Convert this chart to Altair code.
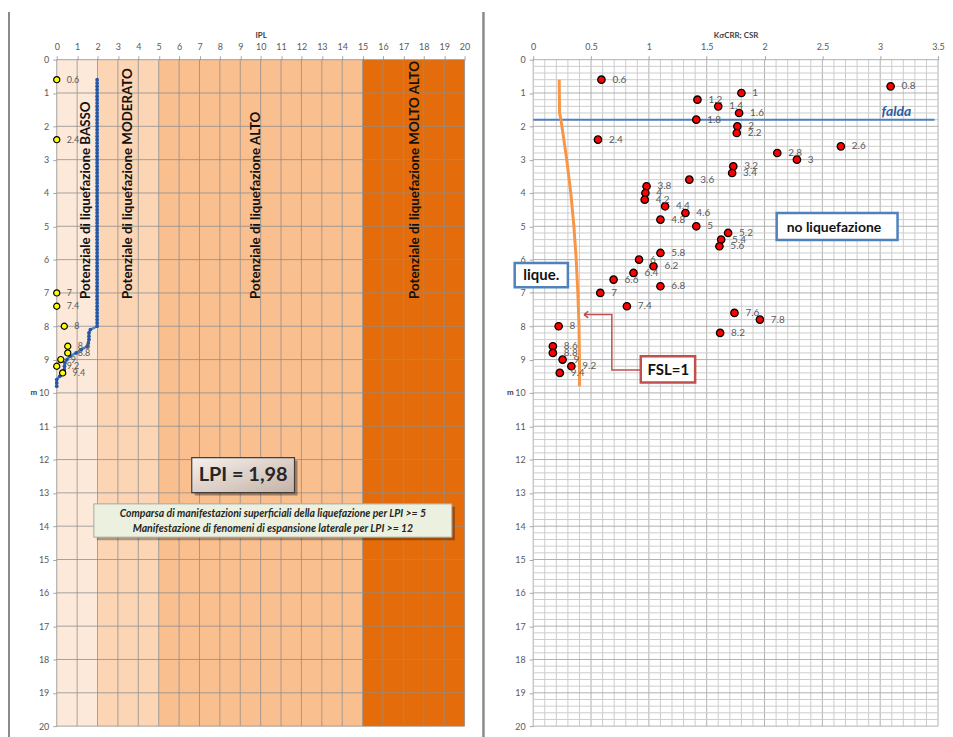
import altair as alt
import pandas as pd

FONT = "Lato"

# ---------------- left panel data ----------------
band_lo = [0, 2, 5, 15]
band_hi = [2, 5, 15, 20]
band_col = ["#fde9d9", "#fcd5b5", "#f9bf8f", "#e46c0a"]

zone_ipl = [1.46, 3.48, 9.79, 17.55]
zone_depth = [7.18, 7.18, 7.18, 7.18]
zone_txt = ["Potenziale di liquefazione BASSO",
            "Potenziale di liquefazione MODERATO",
            "Potenziale di liquefazione ALTO",
            "Potenziale di liquefazione MOLTO ALTO"]

fs_depth = [0.6, 2.4, 7.0, 7.4, 8.0, 8.6, 8.8, 9.0, 9.2, 9.4]
fs_ipl = [0.0, 0.0, 0.0, 0.0, 0.37, 0.54, 0.54, 0.2, 0.0, 0.29]
fs_lab = ["0.6", "2.4", "7", "7.4", "8", "8.6", "8.8", "9", "9.2", "9.4"]

lpi_depth = [0.6, 0.7, 0.8, 0.9, 1.0, 1.1, 1.2, 1.3, 1.4, 1.5, 1.6, 1.7, 1.8, 1.9, 2.0,
             2.1, 2.2, 2.3, 2.4, 2.5, 2.6, 2.7, 2.8, 2.9, 3.0, 3.1, 3.2, 3.3, 3.4, 3.5,
             3.6, 3.7, 3.8, 3.9, 4.0, 4.1, 4.2, 4.3, 4.4, 4.5, 4.6, 4.7, 4.8, 4.9, 5.0,
             5.1, 5.2, 5.3, 5.4, 5.5, 5.6, 5.7, 5.8, 5.9, 6.0, 6.1, 6.2, 6.3, 6.4, 6.5,
             6.6, 6.7, 6.8, 6.9, 7.0, 7.1, 7.2, 7.3, 7.4, 7.5, 7.6, 7.7, 7.8, 7.9, 8.0,
             8.1, 8.2, 8.3, 8.4, 8.5, 8.6, 8.7, 8.8, 8.9, 9.0, 9.1, 9.2, 9.3, 9.4, 9.5,
             9.6, 9.7, 9.8]
lpi_val = [1.98, 1.98, 1.98, 1.98, 1.98, 1.98, 1.98, 1.98, 1.98, 1.98, 1.98, 1.98, 1.98, 1.98, 1.98,
           1.98, 1.98, 1.98, 1.98, 1.98, 1.98, 1.98, 1.98, 1.98, 1.98, 1.98, 1.98, 1.98, 1.98, 1.98,
           1.98, 1.98, 1.98, 1.98, 1.98, 1.98, 1.98, 1.98, 1.98, 1.98, 1.98, 1.98, 1.98, 1.98, 1.98,
           1.98, 1.98, 1.98, 1.98, 1.98, 1.98, 1.98, 1.98, 1.98, 1.98, 1.98, 1.98, 1.98, 1.98, 1.98,
           1.98, 1.98, 1.98, 1.98, 1.98, 1.98, 1.98, 1.98, 1.98, 1.98, 1.98, 1.98, 1.98, 1.98, 1.98,
           1.65, 1.58, 1.58, 1.58, 1.55, 1.50, 1.20, 0.95, 0.65, 0.50, 0.40, 0.38, 0.37, 0.36, 0.15,
           0.0, 0.0, 0.0]

lpi_box = {"x": [6.62], "x2": [11.66], "y": [11.94], "y2": [12.99]}
lpi_text = ["LPI = 1,98"]
note_box = {"x": [1.82], "x2": [19.38], "y": [13.33], "y2": [14.33]}
note_lines = ["Comparsa di manifestazioni superficiali della liquefazione per LPI >= 5",
              "Manifestazione di fenomeni di espansione laterale per LPI >= 12"]
note_depth = [13.63, 14.08]

# ---------------- right panel data ----------------
pt_depth = [0.6, 0.8, 1.0, 1.2, 1.4, 1.6, 1.8, 2.0, 2.2, 2.4, 2.6, 2.8, 3.0, 3.2, 3.4,
            3.6, 3.8, 4.0, 4.2, 4.4, 4.6, 4.8, 5.0, 5.2, 5.4, 5.6, 5.8, 6.0, 6.2, 6.4,
            6.6, 6.8, 7.0, 7.4, 7.6, 7.8, 8.0, 8.2, 8.6, 8.8, 9.0, 9.2, 9.4]
pt_kcrr = [0.59, 3.09, 1.80, 1.42, 1.60, 1.78, 1.41, 1.765, 1.76, 0.56, 2.66, 2.11, 2.28, 1.73, 1.72,
           1.35, 0.98, 0.97, 0.964, 1.14, 1.316, 1.10, 1.41, 1.685, 1.625, 1.61, 1.10, 0.915, 1.04, 0.867,
           0.695, 1.10, 0.58, 0.81, 1.74, 1.96, 0.22, 1.616, 0.17, 0.17, 0.254, 0.33, 0.23]
pt_lab = ["0.6", "0.8", "1", "1.2", "1.4", "1.6", "1.8", "2", "2.2", "2.4", "2.6", "2.8", "3", "3.2", "3.4",
          "3.6", "3.8", "4", "4.2", "4.4", "4.6", "4.8", "5", "5.2", "5.4", "5.6", "5.8", "6", "6.2", "6.4",
          "6.6", "6.8", "7", "7.4", "7.6", "7.8", "8", "8.2", "8.6", "8.8", "9", "9.2", "9.4"]

csr_depth = [0.6, 1.6, 1.8, 2.4, 3.0, 4.0, 5.0, 6.0, 7.0, 8.0, 9.0, 9.8]
csr_val = [0.225, 0.228, 0.24, 0.265, 0.29, 0.325, 0.352, 0.372, 0.386, 0.396, 0.40, 0.40]

falda_depth = 1.8
falda_x = [0.0, 3.47]

boxes = {"x": [2.105, -0.16, 0.93], "x2": [3.15, 0.30, 1.40],
         "y": [4.60, 6.10, 8.90], "y2": [5.41, 6.83, 9.69],
         "stroke": ["#4f81bd", "#4f81bd", "#c0504d"]}
box_text = ["no liquefazione", "lique.", "FSL=1"]
box_tx = [2.60, 0.07, 1.168]
box_ty = [5.06, 6.47, 9.30]
box_fs = [14, 15, 15]

arrow_x = [0.93, 0.68, 0.68, 0.44]
arrow_y = [9.31, 9.31, 7.65, 7.65]

# ---------------- scales & axes ----------------
W1, W2, H = 410, 407, 670
xl = alt.Scale(domain=[0, 20], nice=False, zero=False)
xr = alt.Scale(domain=[0, 3.5], nice=False, zero=False)
yd = alt.Scale(domain=[0, 20], reverse=True, nice=False, zero=False)

axis_common = dict(grid=False, domain=False, tickSize=4, tickColor="#a6a6a6",
                   labelFontSize=9, labelColor="#595959", labelFont=FONT,
                   titleFont=FONT, titleFontSize=8, titleFontWeight="bold",
                   titleColor="#404040", labelFlush=False, labelOverlap=False)

AX_L = alt.Axis(orient="top", values=list(range(21)), title="IPL",
                labelPadding=4, titlePadding=3, **axis_common)
AX_R = alt.Axis(orient="top", values=[0, 0.5, 1, 1.5, 2, 2.5, 3, 3.5], format="~g",
                title="KσCRR;  CSR", labelPadding=4, titlePadding=3, **axis_common)
AX_Y = alt.Axis(orient="left", values=list(range(21)), title="m", titleAngle=0,
                titleBaseline="middle", titlePadding=5, labelPadding=4, **axis_common)


def XL(f):
    return alt.X(f, scale=xl, axis=AX_L)


def XR(f):
    return alt.X(f, scale=xr, axis=AX_R)


def YD(f):
    return alt.Y(f, scale=yd, axis=AX_Y)


# ---------------- left panel ----------------
bands = alt.Chart(pd.DataFrame({"lo": band_lo, "hi": band_hi, "c": band_col,
                                "d0": [0] * 4, "d1": [20] * 4})).mark_rect().encode(
    x=XL("lo:Q"), x2="hi:Q", y=YD("d0:Q"), y2="d1:Q",
    color=alt.Color("c:N", scale=None),
)

grid_vals = list(range(21))
gl_v = alt.Chart(pd.DataFrame({"g": grid_vals})).mark_rule(color="#8f8f8f", strokeWidth=1, opacity=0.8).encode(
    x=XL("g:Q"), y=alt.value(0), y2=alt.value(H))
gl_h = alt.Chart(pd.DataFrame({"g": grid_vals})).mark_rule(color="#8f8f8f", strokeWidth=1, opacity=0.8).encode(
    y=YD("g:Q"), x=alt.value(0), x2=alt.value(W1))

zones = alt.Chart(pd.DataFrame({"x": zone_ipl, "y": zone_depth, "t": zone_txt})).mark_text(
    angle=270, align="left", baseline="middle", font=FONT, fontSize=13.4, fontWeight="bold", color="#111111"
).encode(x=XL("x:Q"), y=YD("y:Q"), text="t:N")

lpi_df = pd.DataFrame({"d": lpi_depth, "v": lpi_val})
lpi_line = alt.Chart(lpi_df).mark_line(color="#4f86d0", strokeWidth=2.5).encode(
    x=XL("v:Q"), y=YD("d:Q"), order="d:Q")
lpi_pts = alt.Chart(lpi_df).mark_point(shape="circle", filled=True, color="#2157a6", size=14, opacity=1).encode(
    x=XL("v:Q"), y=YD("d:Q"))

fs_df = pd.DataFrame({"x": fs_ipl, "y": fs_depth, "t": fs_lab})
fs_pts = alt.Chart(fs_df).mark_point(shape="circle", filled=True, fill="#ffff00", stroke="#000000",
                                     strokeWidth=1.2, size=38, opacity=1).encode(
    x=XL("x:Q"), y=YD("y:Q"))
fs_txt = alt.Chart(fs_df).mark_text(align="left", baseline="middle", dx=10, font=FONT, fontSize=9,
                                    color="#595959").encode(
    x=XL("x:Q"), y=YD("y:Q"), text="t:N")

lpi_box_df = pd.DataFrame(lpi_box)
lpi_shadow = alt.Chart(lpi_box_df).mark_rect(color="#000000", opacity=0.35, xOffset=3, x2Offset=3,
                                             yOffset=3, y2Offset=3).encode(
    x=XL("x:Q"), x2="x2:Q", y=YD("y:Q"), y2="y2:Q")
lpi_rect = alt.Chart(lpi_box_df).mark_rect(
    fill=alt.Gradient(gradient="linear", x1=0, y1=0, x2=1, y2=1,
                      stops=[alt.GradientStop(color="#f6f1ed", offset=0),
                             alt.GradientStop(color="#c4b2a6", offset=1)]),
    stroke="#3f3f3f", strokeWidth=1.2).encode(
    x=XL("x:Q"), x2="x2:Q", y=YD("y:Q"), y2="y2:Q")
lpi_lbl = alt.Chart(pd.DataFrame({"x": [9.14], "y": [12.46], "t": lpi_text})).mark_text(
    font=FONT, fontSize=20, fontWeight="bold", color="#262626", baseline="middle").encode(
    x=XL("x:Q"), y=YD("y:Q"), text="t:N")

note_df = pd.DataFrame(note_box)
note_shadow = alt.Chart(note_df).mark_rect(color="#000000", opacity=0.3, xOffset=3, x2Offset=3,
                                           yOffset=3, y2Offset=3).encode(
    x=XL("x:Q"), x2="x2:Q", y=YD("y:Q"), y2="y2:Q")
note_rect = alt.Chart(note_df).mark_rect(fill="#ebf1de", stroke="#a6a6a6", strokeWidth=1).encode(
    x=XL("x:Q"), x2="x2:Q", y=YD("y:Q"), y2="y2:Q")
note_txt = alt.Chart(pd.DataFrame({"x": [10.6, 10.6], "y": note_depth, "t": note_lines})).mark_text(
    font=FONT, fontSize=10.5, fontWeight="bold", fontStyle="italic", color="#262626", baseline="middle").encode(
    x=XL("x:Q"), y=YD("y:Q"), text="t:N")

left_border = alt.Chart(pd.DataFrame({"a": [0]})).mark_rule(color="#8a8a8a", strokeWidth=2).encode(
    x=alt.value(-48), y=alt.value(-48), y2=alt.value(H + 12))

left = alt.layer(bands, gl_v, gl_h, zones, lpi_line, lpi_pts, fs_pts, fs_txt,
                 lpi_shadow, lpi_rect, lpi_lbl, note_shadow, note_rect, note_txt,
                 left_border).properties(width=W1, height=H)

# ---------------- right panel ----------------
vgrid = [i / 10 for i in range(36)]
hgrid = [i / 5 for i in range(101)]
vg_df = pd.DataFrame({"g": vgrid, "major": [i % 5 == 0 for i in range(36)]})
hg_df = pd.DataFrame({"g": hgrid, "major": [i % 5 == 0 for i in range(101)]})

rg_v = alt.Chart(vg_df).mark_rule(strokeWidth=1).encode(
    x=XR("g:Q"), y=alt.value(0), y2=alt.value(H),
    color=alt.condition("datum.major", alt.value("#b0b0b0"), alt.value("#cdcdcd")))
rg_h = alt.Chart(hg_df).mark_rule(strokeWidth=1).encode(
    y=YD("g:Q"), x=alt.value(0), x2=alt.value(W2),
    color=alt.condition("datum.major", alt.value("#b0b0b0"), alt.value("#cdcdcd")))

falda = alt.Chart(pd.DataFrame({"x": [falda_x[0]], "x2": [falda_x[1]], "y": [falda_depth]})).mark_rule(
    color="#4f81bd", strokeWidth=2).encode(
    x=XR("x:Q"), x2="x2:Q", y=YD("y:Q"))
falda_txt = alt.Chart(pd.DataFrame({"x": [3.14], "y": [1.56], "t": ["falda"]})).mark_text(
    font=FONT, fontSize=14, fontWeight="bold", fontStyle="italic", color="#2e5c9e", baseline="middle").encode(
    x=XR("x:Q"), y=YD("y:Q"), text="t:N")

csr = alt.Chart(pd.DataFrame({"d": csr_depth, "v": csr_val})).mark_line(color="#f79646", strokeWidth=3).encode(
    x=XR("v:Q"), y=YD("d:Q"), order="d:Q")

pt_df = pd.DataFrame({"x": pt_kcrr, "y": pt_depth, "t": pt_lab})
pts = alt.Chart(pt_df).mark_point(shape="circle", filled=True, fill="#ff0000", stroke="#000000",
                                  strokeWidth=1.3, size=55, opacity=1).encode(
    x=XR("x:Q"), y=YD("y:Q"))
pt_txt = alt.Chart(pt_df).mark_text(align="left", baseline="middle", dx=11, font=FONT, fontSize=10,
                                    color="#595959").encode(
    x=XR("x:Q"), y=YD("y:Q"), text="t:N")

arrow = alt.Chart(pd.DataFrame({"x": arrow_x, "y": arrow_y, "o": [0, 1, 2, 3]})).mark_line(
    color="#c0504d", strokeWidth=1.5).encode(
    x=XR("x:Q"), y=YD("y:Q"), order="o:Q")
arrow_head = alt.Chart(pd.DataFrame({"x": [arrow_x[-1]], "y": [arrow_y[-1]]})).mark_point(
    shape="M0,0L1,-0.8M0,0L1,0.8", filled=False, color="#c0504d", strokeWidth=1.5, size=70, opacity=1).encode(
    x=XR("x:Q"), y=YD("y:Q"))

box_df = pd.DataFrame(boxes)
box_rect = alt.Chart(box_df).mark_rect(fill="#ffffff", strokeWidth=2.5).encode(
    x=XR("x:Q"), x2="x2:Q", y=YD("y:Q"), y2="y2:Q",
    stroke=alt.Stroke("stroke:N", scale=None))
box_lbl = alt.Chart(pd.DataFrame({"x": box_tx, "y": box_ty, "t": box_text, "fs": box_fs})).mark_text(
    font=FONT, fontWeight="bold", color="#111111", baseline="middle").encode(
    x=XR("x:Q"), y=YD("y:Q"), text="t:N",
    size=alt.Size("fs:Q", scale=None))

divider = alt.Chart(pd.DataFrame({"a": [0]})).mark_rule(color="#8a8a8a", strokeWidth=2.5).encode(
    x=alt.value(-50), y=alt.value(-48), y2=alt.value(H + 12))

right = alt.layer(rg_v, rg_h, falda, falda_txt, csr, arrow, arrow_head, pts, pt_txt,
                  box_rect, box_lbl, divider).properties(width=W2, height=H)

chart = alt.hconcat(left, right, spacing=69, bounds="flush", padding=0).configure_view(stroke=None)

chart.save("out.html", embed_options={"renderer": "svg", "actions": False})
